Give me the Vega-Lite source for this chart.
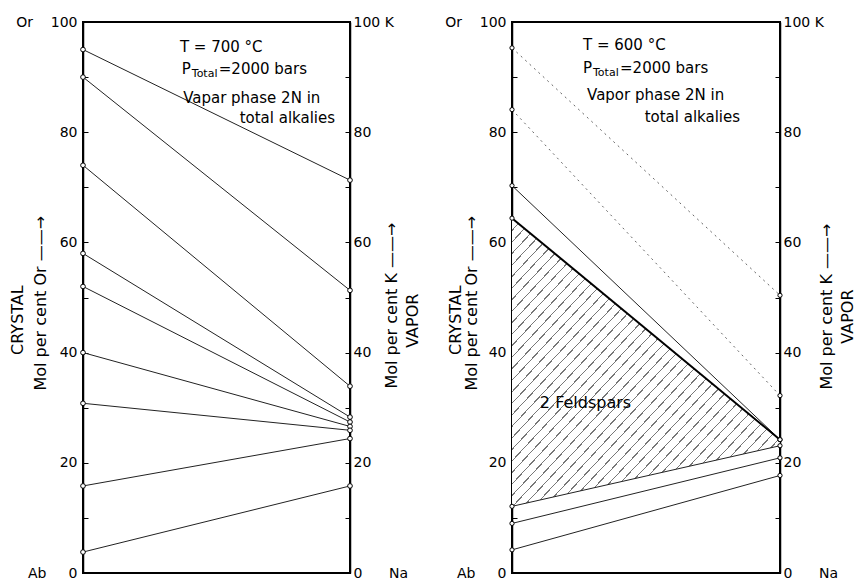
{
"$schema":"https://vega.github.io/schema/vega-lite/v6.json",
"padding":{"left":8,"top":14,"right":0,"bottom":0},
"spacing":21,
"config":{
 "view":{"stroke":"black","strokeWidth":2},
 "font":"DejaVu Sans",
 "axis":{"grid":false,"domainColor":"black","domainWidth":1.5,"tickColor":"black","tickWidth":1,"tickSize":-5,"labelColor":"black","labelFontSize":14,"labelFont":"DejaVu Sans","labelFlush":false,"labelOverlap":false,"titleColor":"black","titleFont":"DejaVu Sans","titleFontSize":16,"titleFontWeight":"normal","titleAngle":-90,"titleAlign":"left","titleBaseline":"middle"},
 "text":{"fontSize":15,"color":"black","font":"DejaVu Sans","align":"left","baseline":"middle"}
},
"datasets":{
 "t700":[
  {"crystal":95,"vapor":71.3},
  {"crystal":90,"vapor":51.3},
  {"crystal":74,"vapor":33.9},
  {"crystal":58,"vapor":28.3},
  {"crystal":52,"vapor":27.4},
  {"crystal":40,"vapor":26.6},
  {"crystal":30.8,"vapor":25.9},
  {"crystal":15.8,"vapor":24.4},
  {"crystal":3.8,"vapor":15.8}
 ],
 "t600":[
  {"crystal":95.3,"vapor":50.4,"kind":"metastable"},
  {"crystal":84.1,"vapor":32.2,"kind":"metastable"},
  {"crystal":70.3,"vapor":24.2,"kind":"tie"},
  {"crystal":64.4,"vapor":24.2,"kind":"solvus"},
  {"crystal":12.1,"vapor":23.1,"kind":"tie"},
  {"crystal":9,"vapor":20.9,"kind":"tie"},
  {"crystal":4.2,"vapor":17.7,"kind":"tie"}
 ],
 "twofsp":[
  {"x":0,"top":64.4,"bottom":12.1},
  {"x":1,"top":24.2,"bottom":23.1}
 ]
},
"hconcat":[
 {
  "width":267,"height":551,
  "data":{"name":"t700"},
  "layer":[
   {"mark":{"type":"rule","color":"#222","strokeWidth":1},
    "encoding":{
     "x":{"datum":0,"type":"quantitative","scale":{"domain":[0,1]},"axis":null},
     "x2":{"datum":1},
     "y":{"field":"crystal","type":"quantitative","scale":{"domain":[0,100]},"axis":null},
     "y2":{"field":"vapor"}}},
   {"mark":{"type":"point","shape":"circle","filled":true,"fill":"white","stroke":"black","strokeWidth":1,"size":22,"opacity":1},
    "encoding":{
     "x":{"datum":0,"type":"quantitative","scale":{"domain":[0,1]},"axis":null},
     "y":{"field":"crystal","type":"quantitative","scale":{"domain":[0,100]},
      "axis":{"orient":"left","values":[0,10,20,30,40,50,60,70,80,90,100],"labelPadding":11,
       "labelExpr":"datum.value == 100 ? 'Or\u00a0\u00a0\u00a0\u00a0100' : datum.value == 0 ? 'Ab\u00a0\u00a0\u00a0\u00a0\u00a00' : (datum.value % 20 == 0 ? datum.label : '')",
       "title":["\u200b\u00a0\u00a0\u00a0\u00a0\u00a0\u00a0\u00a0CRYSTAL","Mol per cent Or ——→"],"titleX":-66,"titleY":368,"titleLineHeight":23}}}},
   {"mark":{"type":"point","shape":"circle","filled":true,"fill":"white","stroke":"black","strokeWidth":1,"size":22,"opacity":1},
    "encoding":{
     "x":{"datum":1,"type":"quantitative","scale":{"domain":[0,1]},"axis":null},
     "y":{"field":"vapor","type":"quantitative","scale":{"domain":[0,100]},
      "axis":{"orient":"right","values":[0,10,20,30,40,50,60,70,80,90,100],"labelPadding":8,
       "labelExpr":"datum.value == 100 ? '100\u00a0K' : datum.value == 0 ? '0\u00a0\u00a0\u00a0\u00a0\u00a0\u00a0Na' : (datum.value % 20 == 0 ? datum.label : '')",
       "title":["Mol per cent K ——→","\u200b\u00a0\u00a0\u00a0\u00a0\u00a0\u00a0\u00a0\u00a0VAPOR"],"titleX":41,"titleY":366,"titleLineHeight":21.5}}}},
   {"data":{"values":[{}]},"mark":{"type":"text","text":"T = 700 °C"},
    "encoding":{"x":{"datum":0.363,"type":"quantitative","scale":{"domain":[0,1]},"axis":null},"y":{"datum":95.5,"type":"quantitative","scale":{"domain":[0,100]},"axis":null}}},
   {"data":{"values":[{}]},"mark":{"type":"text","text":"P"},
    "encoding":{"x":{"datum":0.37,"type":"quantitative","scale":{"domain":[0,1]},"axis":null},"y":{"datum":91.4,"type":"quantitative","scale":{"domain":[0,100]},"axis":null}}},
   {"data":{"values":[{}]},"mark":{"type":"text","text":"Total","fontSize":11,"dx":10,"dy":5},
    "encoding":{"x":{"datum":0.37,"type":"quantitative","scale":{"domain":[0,1]},"axis":null},"y":{"datum":91.4,"type":"quantitative","scale":{"domain":[0,100]},"axis":null}}},
   {"data":{"values":[{}]},"mark":{"type":"text","text":"=2000 bars","dx":37},
    "encoding":{"x":{"datum":0.37,"type":"quantitative","scale":{"domain":[0,1]},"axis":null},"y":{"datum":91.4,"type":"quantitative","scale":{"domain":[0,100]},"axis":null}}},
   {"data":{"values":[{}]},"mark":{"type":"text","text":"Vapar phase 2N in"},
    "encoding":{"x":{"datum":0.375,"type":"quantitative","scale":{"domain":[0,1]},"axis":null},"y":{"datum":86.2,"type":"quantitative","scale":{"domain":[0,100]},"axis":null}}},
   {"data":{"values":[{}]},"mark":{"type":"text","text":"total alkalies","align":"right"},
    "encoding":{"x":{"datum":0.944,"type":"quantitative","scale":{"domain":[0,1]},"axis":null},"y":{"datum":82.6,"type":"quantitative","scale":{"domain":[0,100]},"axis":null}}}
  ],
  "resolve":{"scale":{"y":"independent"}}
 },
 {
  "width":268,"height":551,
  "data":{"name":"t600"},
  "layer":[
   {"data":{"name":"twofsp"},
    "mark":{"type":"area","fill":{"gradient":"linear","x1":0,"y1":0,"x2":1,"y2":1,"stops":[
{"offset":0,"color":"#777"},{"offset":0.0025,"color":"#777"},{"offset":0.0025,"color":"#fff"},{"offset":0.02,"color":"#fff"},
{"offset":0.02,"color":"#777"},{"offset":0.0225,"color":"#777"},{"offset":0.0225,"color":"#fff"},{"offset":0.04,"color":"#fff"},
{"offset":0.04,"color":"#777"},{"offset":0.0425,"color":"#777"},{"offset":0.0425,"color":"#fff"},{"offset":0.06,"color":"#fff"},
{"offset":0.06,"color":"#777"},{"offset":0.0625,"color":"#777"},{"offset":0.0625,"color":"#fff"},{"offset":0.08,"color":"#fff"},
{"offset":0.08,"color":"#777"},{"offset":0.0825,"color":"#777"},{"offset":0.0825,"color":"#fff"},{"offset":0.1,"color":"#fff"},
{"offset":0.1,"color":"#777"},{"offset":0.1025,"color":"#777"},{"offset":0.1025,"color":"#fff"},{"offset":0.12,"color":"#fff"},
{"offset":0.12,"color":"#777"},{"offset":0.1225,"color":"#777"},{"offset":0.1225,"color":"#fff"},{"offset":0.14,"color":"#fff"},
{"offset":0.14,"color":"#777"},{"offset":0.1425,"color":"#777"},{"offset":0.1425,"color":"#fff"},{"offset":0.16,"color":"#fff"},
{"offset":0.16,"color":"#777"},{"offset":0.1625,"color":"#777"},{"offset":0.1625,"color":"#fff"},{"offset":0.18,"color":"#fff"},
{"offset":0.18,"color":"#777"},{"offset":0.1825,"color":"#777"},{"offset":0.1825,"color":"#fff"},{"offset":0.2,"color":"#fff"},
{"offset":0.2,"color":"#777"},{"offset":0.2025,"color":"#777"},{"offset":0.2025,"color":"#fff"},{"offset":0.22,"color":"#fff"},
{"offset":0.22,"color":"#777"},{"offset":0.2225,"color":"#777"},{"offset":0.2225,"color":"#fff"},{"offset":0.24,"color":"#fff"},
{"offset":0.24,"color":"#777"},{"offset":0.2425,"color":"#777"},{"offset":0.2425,"color":"#fff"},{"offset":0.26,"color":"#fff"},
{"offset":0.26,"color":"#777"},{"offset":0.2625,"color":"#777"},{"offset":0.2625,"color":"#fff"},{"offset":0.28,"color":"#fff"},
{"offset":0.28,"color":"#777"},{"offset":0.2825,"color":"#777"},{"offset":0.2825,"color":"#fff"},{"offset":0.3,"color":"#fff"},
{"offset":0.3,"color":"#777"},{"offset":0.3025,"color":"#777"},{"offset":0.3025,"color":"#fff"},{"offset":0.32,"color":"#fff"},
{"offset":0.32,"color":"#777"},{"offset":0.3225,"color":"#777"},{"offset":0.3225,"color":"#fff"},{"offset":0.34,"color":"#fff"},
{"offset":0.34,"color":"#777"},{"offset":0.3425,"color":"#777"},{"offset":0.3425,"color":"#fff"},{"offset":0.36,"color":"#fff"},
{"offset":0.36,"color":"#777"},{"offset":0.3625,"color":"#777"},{"offset":0.3625,"color":"#fff"},{"offset":0.38,"color":"#fff"},
{"offset":0.38,"color":"#777"},{"offset":0.3825,"color":"#777"},{"offset":0.3825,"color":"#fff"},{"offset":0.4,"color":"#fff"},
{"offset":0.4,"color":"#777"},{"offset":0.4025,"color":"#777"},{"offset":0.4025,"color":"#fff"},{"offset":0.42,"color":"#fff"},
{"offset":0.42,"color":"#777"},{"offset":0.4225,"color":"#777"},{"offset":0.4225,"color":"#fff"},{"offset":0.44,"color":"#fff"},
{"offset":0.44,"color":"#777"},{"offset":0.4425,"color":"#777"},{"offset":0.4425,"color":"#fff"},{"offset":0.46,"color":"#fff"},
{"offset":0.46,"color":"#777"},{"offset":0.4625,"color":"#777"},{"offset":0.4625,"color":"#fff"},{"offset":0.48,"color":"#fff"},
{"offset":0.48,"color":"#777"},{"offset":0.4825,"color":"#777"},{"offset":0.4825,"color":"#fff"},{"offset":0.5,"color":"#fff"},
{"offset":0.5,"color":"#777"},{"offset":0.5025,"color":"#777"},{"offset":0.5025,"color":"#fff"},{"offset":0.52,"color":"#fff"},
{"offset":0.52,"color":"#777"},{"offset":0.5225,"color":"#777"},{"offset":0.5225,"color":"#fff"},{"offset":0.54,"color":"#fff"},
{"offset":0.54,"color":"#777"},{"offset":0.5425,"color":"#777"},{"offset":0.5425,"color":"#fff"},{"offset":0.56,"color":"#fff"},
{"offset":0.56,"color":"#777"},{"offset":0.5625,"color":"#777"},{"offset":0.5625,"color":"#fff"},{"offset":0.58,"color":"#fff"},
{"offset":0.58,"color":"#777"},{"offset":0.5825,"color":"#777"},{"offset":0.5825,"color":"#fff"},{"offset":0.6,"color":"#fff"},
{"offset":0.6,"color":"#777"},{"offset":0.6025,"color":"#777"},{"offset":0.6025,"color":"#fff"},{"offset":0.62,"color":"#fff"},
{"offset":0.62,"color":"#777"},{"offset":0.6225,"color":"#777"},{"offset":0.6225,"color":"#fff"},{"offset":0.64,"color":"#fff"},
{"offset":0.64,"color":"#777"},{"offset":0.6425,"color":"#777"},{"offset":0.6425,"color":"#fff"},{"offset":0.66,"color":"#fff"},
{"offset":0.66,"color":"#777"},{"offset":0.6625,"color":"#777"},{"offset":0.6625,"color":"#fff"},{"offset":0.68,"color":"#fff"},
{"offset":0.68,"color":"#777"},{"offset":0.6825,"color":"#777"},{"offset":0.6825,"color":"#fff"},{"offset":0.7,"color":"#fff"},
{"offset":0.7,"color":"#777"},{"offset":0.7025,"color":"#777"},{"offset":0.7025,"color":"#fff"},{"offset":0.72,"color":"#fff"},
{"offset":0.72,"color":"#777"},{"offset":0.7225,"color":"#777"},{"offset":0.7225,"color":"#fff"},{"offset":0.74,"color":"#fff"},
{"offset":0.74,"color":"#777"},{"offset":0.7425,"color":"#777"},{"offset":0.7425,"color":"#fff"},{"offset":0.76,"color":"#fff"},
{"offset":0.76,"color":"#777"},{"offset":0.7625,"color":"#777"},{"offset":0.7625,"color":"#fff"},{"offset":0.78,"color":"#fff"},
{"offset":0.78,"color":"#777"},{"offset":0.7825,"color":"#777"},{"offset":0.7825,"color":"#fff"},{"offset":0.8,"color":"#fff"},
{"offset":0.8,"color":"#777"},{"offset":0.8025,"color":"#777"},{"offset":0.8025,"color":"#fff"},{"offset":0.82,"color":"#fff"},
{"offset":0.82,"color":"#777"},{"offset":0.8225,"color":"#777"},{"offset":0.8225,"color":"#fff"},{"offset":0.84,"color":"#fff"},
{"offset":0.84,"color":"#777"},{"offset":0.8425,"color":"#777"},{"offset":0.8425,"color":"#fff"},{"offset":0.86,"color":"#fff"},
{"offset":0.86,"color":"#777"},{"offset":0.8625,"color":"#777"},{"offset":0.8625,"color":"#fff"},{"offset":0.88,"color":"#fff"},
{"offset":0.88,"color":"#777"},{"offset":0.8825,"color":"#777"},{"offset":0.8825,"color":"#fff"},{"offset":0.9,"color":"#fff"},
{"offset":0.9,"color":"#777"},{"offset":0.9025,"color":"#777"},{"offset":0.9025,"color":"#fff"},{"offset":0.92,"color":"#fff"},
{"offset":0.92,"color":"#777"},{"offset":0.9225,"color":"#777"},{"offset":0.9225,"color":"#fff"},{"offset":0.94,"color":"#fff"},
{"offset":0.94,"color":"#777"},{"offset":0.9425,"color":"#777"},{"offset":0.9425,"color":"#fff"},{"offset":0.96,"color":"#fff"},
{"offset":0.96,"color":"#777"},{"offset":0.9625,"color":"#777"},{"offset":0.9625,"color":"#fff"},{"offset":0.98,"color":"#fff"},
{"offset":0.98,"color":"#777"},{"offset":0.9825,"color":"#777"},{"offset":0.9825,"color":"#fff"},{"offset":1,"color":"#fff"}
]}},
    "encoding":{
     "x":{"field":"x","type":"quantitative","scale":{"domain":[0,1]},"axis":null},
     "y":{"field":"top","type":"quantitative","scale":{"domain":[0,100]},"axis":null},
     "y2":{"field":"bottom"}}},
   {"transform":[{"filter":"datum.kind == 'metastable'"}],
    "mark":{"type":"rule","color":"#666","strokeWidth":1,"strokeDash":[2,4]},
    "encoding":{
     "x":{"datum":0,"type":"quantitative","scale":{"domain":[0,1]},"axis":null},
     "x2":{"datum":1},
     "y":{"field":"crystal","type":"quantitative","scale":{"domain":[0,100]},"axis":null},
     "y2":{"field":"vapor"}}},
   {"transform":[{"filter":"datum.kind == 'tie'"}],
    "mark":{"type":"rule","color":"#222","strokeWidth":1},
    "encoding":{
     "x":{"datum":0,"type":"quantitative","scale":{"domain":[0,1]},"axis":null},
     "x2":{"datum":1},
     "y":{"field":"crystal","type":"quantitative","scale":{"domain":[0,100]},"axis":null},
     "y2":{"field":"vapor"}}},
   {"transform":[{"filter":"datum.kind == 'solvus'"}],
    "mark":{"type":"rule","color":"black","strokeWidth":2},
    "encoding":{
     "x":{"datum":0,"type":"quantitative","scale":{"domain":[0,1]},"axis":null},
     "x2":{"datum":1},
     "y":{"field":"crystal","type":"quantitative","scale":{"domain":[0,100]},"axis":null},
     "y2":{"field":"vapor"}}},
   {"mark":{"type":"point","shape":"circle","filled":true,"fill":"white","stroke":"black","strokeWidth":1,"size":18,"opacity":1},
    "encoding":{
     "x":{"datum":0,"type":"quantitative","scale":{"domain":[0,1]},"axis":null},
     "y":{"field":"crystal","type":"quantitative","scale":{"domain":[0,100]},
      "axis":{"orient":"left","values":[0,10,20,30,40,50,60,70,80,90,100],"labelPadding":11,
       "labelExpr":"datum.value == 100 ? 'Or\u00a0\u00a0\u00a0\u00a0100' : datum.value == 0 ? 'Ab\u00a0\u00a0\u00a0\u00a0\u00a00' : (datum.value % 20 == 0 ? datum.label : '')",
       "title":["\u200b\u00a0\u00a0\u00a0\u00a0\u00a0\u00a0\u00a0CRYSTAL","Mol per cent Or ——→"],"titleX":-56.5,"titleY":368,"titleLineHeight":15.5}}}},
   {"mark":{"type":"point","shape":"circle","filled":true,"fill":"white","stroke":"black","strokeWidth":1,"size":18,"opacity":1},
    "encoding":{
     "x":{"datum":1,"type":"quantitative","scale":{"domain":[0,1]},"axis":null},
     "y":{"field":"vapor","type":"quantitative","scale":{"domain":[0,100]},
      "axis":{"orient":"right","values":[0,10,20,30,40,50,60,70,80,90,100],"labelPadding":8,
       "labelExpr":"datum.value == 100 ? '100\u00a0K' : datum.value == 0 ? '0\u00a0\u00a0\u00a0\u00a0\u00a0\u00a0Na' : (datum.value % 20 == 0 ? datum.label : '')",
       "title":["Mol per cent K ——→","\u200b\u00a0\u00a0\u00a0\u00a0\u00a0\u00a0\u00a0\u00a0\u00a0VAPOR"],"titleX":46,"titleY":367,"titleLineHeight":21}}}},
   {"data":{"values":[{}]},"mark":{"type":"text","text":"T = 600 °C"},
    "encoding":{"x":{"datum":0.265,"type":"quantitative","scale":{"domain":[0,1]},"axis":null},"y":{"datum":95.8,"type":"quantitative","scale":{"domain":[0,100]},"axis":null}}},
   {"data":{"values":[{}]},"mark":{"type":"text","text":"P"},
    "encoding":{"x":{"datum":0.265,"type":"quantitative","scale":{"domain":[0,1]},"axis":null},"y":{"datum":91.6,"type":"quantitative","scale":{"domain":[0,100]},"axis":null}}},
   {"data":{"values":[{}]},"mark":{"type":"text","text":"Total","fontSize":11,"dx":10,"dy":5},
    "encoding":{"x":{"datum":0.265,"type":"quantitative","scale":{"domain":[0,1]},"axis":null},"y":{"datum":91.6,"type":"quantitative","scale":{"domain":[0,100]},"axis":null}}},
   {"data":{"values":[{}]},"mark":{"type":"text","text":"=2000 bars","dx":37},
    "encoding":{"x":{"datum":0.265,"type":"quantitative","scale":{"domain":[0,1]},"axis":null},"y":{"datum":91.6,"type":"quantitative","scale":{"domain":[0,100]},"axis":null}}},
   {"data":{"values":[{}]},"mark":{"type":"text","text":"Vapor phase 2N in"},
    "encoding":{"x":{"datum":0.28,"type":"quantitative","scale":{"domain":[0,1]},"axis":null},"y":{"datum":86.7,"type":"quantitative","scale":{"domain":[0,100]},"axis":null}}},
   {"data":{"values":[{}]},"mark":{"type":"text","text":"total alkalies","align":"right"},
    "encoding":{"x":{"datum":0.851,"type":"quantitative","scale":{"domain":[0,1]},"axis":null},"y":{"datum":82.7,"type":"quantitative","scale":{"domain":[0,100]},"axis":null}}},
   {"data":{"values":[{}]},"mark":{"type":"text","text":"2 Feldspars","fontSize":16},
    "encoding":{"x":{"datum":0.104,"type":"quantitative","scale":{"domain":[0,1]},"axis":null},"y":{"datum":30.9,"type":"quantitative","scale":{"domain":[0,100]},"axis":null}}}
  ],
  "resolve":{"scale":{"y":"independent"}}
 }
]
}
